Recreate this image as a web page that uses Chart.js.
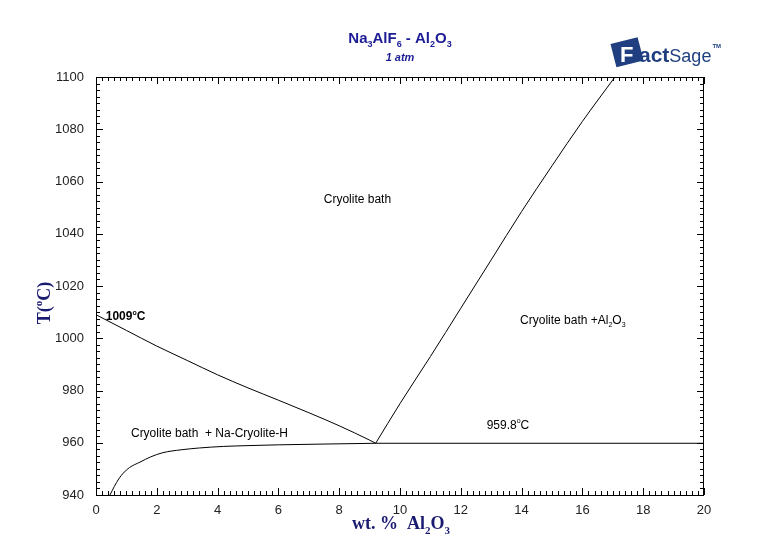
<!DOCTYPE html>
<html>
<head>
<meta charset="utf-8">
<script src="https://cdn.jsdelivr.net/npm/chart.js@4.4.1/dist/chart.umd.min.js"></script>
<style>
  html, body { margin: 0; padding: 0; background: #fff; }
  #wrap { width: 764px; height: 550px; position: relative; }
</style>
</head>
<body>
<div id="wrap"><canvas id="grafica"></canvas></div>
<script>
// ejes
const xTicks = [0, 2, 4, 6, 8, 10, 12, 14, 16, 18, 20];
const yTicks = [940, 960, 980, 1000, 1020, 1040, 1060, 1080, 1100];

// liquidus de criolita (lado izquierdo)
const liqCrioX = [0, 1, 2, 3, 4, 5, 6, 7, 8, 9, 9.2];
const liqCrioT = [1009, 1003, 997, 991.5, 986, 981, 976.3, 971.5, 966.5, 961, 959.8];

// liquidus de Al2O3
const liqAlX = [9.2, 10, 11, 12, 13, 14, 15, 16, 17.07];
const liqAlT = [959.8, 975, 993, 1011.5, 1030, 1048.5, 1066, 1083, 1100];

// solidus Na-Cryolite-H
const solX = [0.46, 0.6, 0.75, 0.9, 1.1, 1.45, 1.8, 2.2, 2.8, 3.4, 4.2, 5, 6, 7.5, 9.2];
const solT = [940, 943.2, 946.2, 948.4, 950.5, 952.6, 954.6, 956.2, 957.3, 958, 958.6, 958.9, 959.2, 959.5, 959.8];

// eutectica
const eutX = [9.2, 20];
const eutT = [959.8, 959.8];

const azul = '#1c1c96';

function puntos(xs, ts) {
    return xs.map((x, i) => ({ x: x, y: ts[i] }));
}

// texto con subindices / superindices
function textoRico(ctx, partes, x, y, tam, fuente, peso, estilo, alinear) {
    const chico = Math.round(tam * 0.62);
    let ancho = 0;
    partes.forEach(p => {
        ctx.font = `${estilo || ''} ${peso || ''} ${p.sub || p.sup ? chico : tam}px ${fuente}`;
        ancho += ctx.measureText(p.t).width;
    });
    let cx = x;
    if (alinear === 'center') cx = x - ancho / 2;
    ctx.textBaseline = 'alphabetic';
    ctx.textAlign = 'left';
    partes.forEach(p => {
        const s = p.sub || p.sup ? chico : tam;
        ctx.font = `${estilo || ''} ${peso || ''} ${s}px ${fuente}`;
        let dy = 0;
        if (p.sub) dy = tam * 0.28;
        if (p.sup) dy = -tam * 0.45;
        ctx.fillText(p.t, cx, y + dy);
        cx += ctx.measureText(p.t).width;
    });
}

const decoraciones = {
    id: 'decoraciones',
    afterDraw(chart) {
        const ctx = chart.ctx;
        const a = chart.chartArea;
        const sx = chart.scales.x, sy = chart.scales.y;
        ctx.save();

        // marco
        ctx.strokeStyle = '#000';
        ctx.lineWidth = 1;
        ctx.strokeRect(a.left + 0.5, a.top + 0.5, a.right - a.left - 1, a.bottom - a.top);

        // marcas hacia adentro
        ctx.beginPath();
        for (let i = 0; i <= 100; i++) {
            const v = i * 0.2;
            const px = Math.round(sx.getPixelForValue(v)) + 0.5;
            const l = (i % 10 === 0) ? 7 : 4;
            ctx.moveTo(px, a.bottom); ctx.lineTo(px, a.bottom - l);
            ctx.moveTo(px, a.top); ctx.lineTo(px, a.top + l);
        }
        for (let i = 0; i <= 64; i++) {
            const v = 940 + i * 2.5;
            const py = Math.round(sy.getPixelForValue(v)) + 0.5;
            const l = (i % 8 === 0) ? 7 : 4;
            ctx.moveTo(a.left, py); ctx.lineTo(a.left + l, py);
            ctx.moveTo(a.right, py); ctx.lineTo(a.right - l, py);
        }
        ctx.stroke();

        // titulo
        ctx.fillStyle = azul;
        const cxT = (a.left + a.right) / 2;
        textoRico(ctx, [{t:'Na'},{t:'3',sub:true},{t:'AlF'},{t:'6',sub:true},{t:' - Al'},{t:'2',sub:true},{t:'O'},{t:'3',sub:true}],
            cxT, 43, 15, 'Arial, "Liberation Sans"', 'bold', '', 'center');
        textoRico(ctx, [{t:'1 atm'}], cxT, 61, 11, 'Arial, "Liberation Sans"', 'bold', 'italic', 'center');

        // titulos de ejes
        ctx.fillStyle = '#1a1a70';
        textoRico(ctx, [{t:'wt. %  Al'},{t:'2',sub:true},{t:'O'},{t:'3',sub:true}],
            401, 529, 18, '"Times New Roman", "Liberation Serif"', 'bold', '', 'center');
        ctx.save();
        ctx.translate(50, 303);
        ctx.rotate(-Math.PI / 2);
        textoRico(ctx, [{t:'T('},{t:'o',sup:true},{t:'C)'}], 0, 0, 18, '"Times New Roman", "Liberation Serif"', 'bold', '', 'center');
        ctx.restore();

        // etiquetas dentro de la grafica
        ctx.fillStyle = '#000';
        const f = 'Arial, "Liberation Sans"';
        const X = v => sx.getPixelForValue(v), Y = v => sy.getPixelForValue(v);
        textoRico(ctx, [{t:'Cryolite bath'}], X(8.6), Y(1051.7), 12, f, '', '', 'center');
        textoRico(ctx, [{t:'1009'},{t:'o',sup:true},{t:'C'}], X(0.32), Y(1007), 12, f, 'bold', '', 'left');
        textoRico(ctx, [{t:'Cryolite bath  + Na-Cryolite-H'}], X(1.15), Y(962.3), 12, f, '', '', 'left');
        textoRico(ctx, [{t:'959.8'},{t:'o',sup:true},{t:'C'}], X(12.85), Y(965.4), 12, f, '', '', 'left');
        textoRico(ctx, [{t:'Cryolite bath +Al'},{t:'2',sub:true},{t:'O'},{t:'3',sub:true}], X(13.95), Y(1005.5), 12, f, '', '', 'left');

        // logo FactSage
        ctx.save();
        ctx.translate(628, 52);
        ctx.rotate(-0.25);
        ctx.fillStyle = '#1f3f80';
        ctx.fillRect(-15, -12, 28, 24);
        ctx.restore();
        ctx.fillStyle = '#fff';
        ctx.font = 'bold 22px Arial, "Liberation Sans"';
        ctx.textAlign = 'left';
        ctx.fillText('F', 620, 62);
        ctx.fillStyle = '#1f3f80';
        ctx.font = 'bold 21px Arial, "Liberation Sans"';
        ctx.fillText('act', 639, 62);
        const w1 = ctx.measureText('act').width;
        ctx.font = '18px "Liberation Sans Narrow", Arial';
        ctx.fillText('Sage', 639 + w1, 62);
        const w2 = ctx.measureText('Sage').width;
        ctx.font = 'bold 6px Arial';
        ctx.fillText('TM', 639 + w1 + w2 + 1, 48);

        ctx.restore();
    }
};

const ctx = document.getElementById('grafica').getContext('2d');
const linea = (datos) => ({
    data: datos,
    borderColor: '#000',
    borderWidth: 1,
    pointRadius: 0,
    fill: false,
    cubicInterpolationMode: 'monotone'
});

new Chart(ctx, {
    type: 'line',
    data: {
        datasets: [
            linea(puntos(liqCrioX, liqCrioT)),
            linea(puntos(liqAlX, liqAlT)),
            linea(puntos(solX, solT)),
            linea(puntos(eutX, eutT))
        ]
    },
    options: {
        responsive: true,
        maintainAspectRatio: false,
        animation: false,
        layout: { padding: { top: 77, right: 60, left: 0, bottom: 0 } },
        plugins: { legend: { display: false }, title: { display: false }, tooltip: { enabled: false } },
        scales: {
            x: {
                type: 'linear',
                min: 0, max: 20,
                afterBuildTicks: s => { s.ticks = xTicks.map(v => ({ value: v })); },
                afterFit: s => { s.height = 55; },
                grid: { display: false, drawTicks: false },
                border: { display: false },
                ticks: { color: '#222', padding: 8, font: { size: 13, family: 'Arial, "Liberation Sans"' }, maxRotation: 0,
                         callback: v => String(v) }
            },
            y: {
                type: 'linear',
                min: 940, max: 1100,
                afterBuildTicks: s => { s.ticks = yTicks.map(v => ({ value: v })); },
                afterFit: s => { s.width = 96; },
                grid: { display: false, drawTicks: false },
                border: { display: false },
                ticks: { color: '#222', padding: 12, font: { size: 13, family: 'Arial, "Liberation Sans"' },
                         callback: v => String(v) }
            }
        }
    },
    plugins: [decoraciones]
});
</script>
</body>
</html>
